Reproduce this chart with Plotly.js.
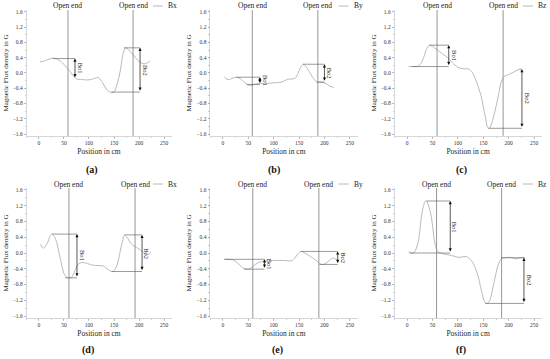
<!DOCTYPE html>
<html><head><meta charset="utf-8">
<script src="https://cdn.plot.ly/plotly-3.0.1.min.js"></script>
<style>html,body{margin:0;padding:0;background:#fff}#chart{width:550px;height:359px}</style>
</head><body><div id="chart"></div>
<script>
// ---- data (position in cm, flux density in G) ----
const posA = [2,10,20,28,35,45,55,62,70,76,85,95,105,115,120,127,135,142,150,156,162,168,173,180,190,200,210,216,222];
const valA = [0.29,0.31,0.36,0.39,0.37,0.29,0.15,0.04,-0.10,-0.16,-0.17,-0.18,-0.17,-0.12,-0.13,-0.25,-0.43,-0.50,-0.50,-0.30,0.02,0.50,0.66,0.60,0.45,0.30,0.24,0.26,0.32];
const posB = [3,8,13,20,27,35,42,48,55,62,72,85,100,115,122,128,135,142,148,153,158,163,170,177,185,195,203,210,218];
const valB = [-0.10,-0.16,-0.17,-0.13,-0.11,-0.15,-0.24,-0.30,-0.33,-0.30,-0.27,-0.27,-0.26,-0.24,-0.20,-0.16,-0.16,-0.14,-0.01,0.15,0.23,0.18,0.04,-0.12,-0.23,-0.24,-0.28,-0.34,-0.38];
const posC = [3,10,20,27,33,38,44,50,59,70,82,90,99,106,112,118,122,128,134,140,146,151,155,158,162,167,172,178,185,191,200,208,216,222];
const valC = [0.17,0.17,0.17,0.24,0.42,0.62,0.73,0.70,0.61,0.50,0.38,0.26,0.16,0.12,0.11,0.11,0.10,0.02,-0.14,-0.36,-0.62,-0.95,-1.22,-1.42,-1.45,-1.30,-1.05,-0.70,-0.25,-0.09,-0.04,0.01,0.07,0.10];
const posD = [3,9,17,22,26,31,36,40,44,50,57,65,72,78,86,95,105,116,129,138,143,148,155,160,165,171,178,185,195,205,212,218,224];
const valD = [0.22,0.12,0.25,0.42,0.48,0.42,0.25,0.02,-0.22,-0.52,-0.63,-0.62,-0.45,-0.29,-0.24,-0.26,-0.30,-0.32,-0.33,-0.42,-0.46,-0.47,-0.35,-0.10,0.20,0.46,0.36,0.22,0.14,0.06,-0.02,-0.04,0.02];
const posE = [3,12,19,26,32,37,41,48,53,58,64,71,80,87,100,120,130,136,141,146,150,154,160,168,176,185,190,195,200,206,211,217,222,228];
const valE = [-0.16,-0.16,-0.17,-0.22,-0.29,-0.35,-0.39,-0.41,-0.40,-0.35,-0.29,-0.24,-0.21,-0.20,-0.19,-0.19,-0.20,-0.20,-0.14,-0.05,0.01,0.04,0.01,-0.05,-0.12,-0.20,-0.26,-0.29,-0.28,-0.23,-0.17,-0.13,-0.16,-0.24];
const posF = [3,8,12,17,22,25,28,32,35,38,41,45,48,51,54,58,61,70,83,92,100,108,116,122,128,132,137,141,145,148,151,154,158,163,167,172,177,182,186,193,200,207,213,220,226,232];
const valF = [0.03,0.0,-0.01,0.08,0.29,0.55,0.90,1.18,1.30,1.32,1.25,1.08,0.90,0.60,0.29,0.10,0.03,-0.02,-0.05,-0.08,-0.11,-0.10,-0.09,-0.13,-0.22,-0.31,-0.48,-0.65,-0.88,-1.04,-1.20,-1.27,-1.28,-1.20,-1.00,-0.70,-0.40,-0.22,-0.14,-0.12,-0.11,-0.12,-0.15,-0.13,-0.12,-0.12];

const seriesNames = ['Bx','By','Bz','Bx','By','Bz'];
const panelLetters = ['(a)','(b)','(c)','(d)','(e)','(f)'];
const openEnd1 = [58,58,59,60,59,58];
const openEnd2 = [188,187,189,192,189,186];
// Bo1 / Bo2 measurement marks: arrow position, top level, bottom level, where the guide lines start
const bo1X = [72,73,82,76,82,85];
const bo1Top = [0.38,-0.11,0.73,0.48,-0.16,1.32];
const bo1Bot = [-0.15,-0.30,0.17,-0.63,-0.41,0.0];
const bo1TopFrom = [28,27,44,26,3,38];
const bo1BotFrom = [72,47,9,52,42,5];
const bo2X = [202,200,226,206,226,230];
const bo2Top = [0.66,0.23,0.10,0.46,0.04,-0.12];
const bo2Bot = [-0.50,-0.24,-1.45,-0.47,-0.29,-1.28];
const bo2TopFrom = [170,158,222,171,154,185];
const bo2BotFrom = [145,185,160,145,190,154];
const xTickVals = [0,50,100,150,200,250];
const yTickVals = [-1.6,-1.2,-0.8,-0.4,0.0,0.4,0.8,1.2,1.6];

const positions = [posA,posB,posC,posD,posE,posF];
const values = [valA,valB,valC,valD,valE,valF];

const FONT = 'Liberation Serif, Times New Roman, serif';
const colDomains = [[0.048,0.312],[0.382,0.650],[0.717,0.985]];
const rowDomains = [[0.6214,0.9719],[0.1142,0.4763]];
const openLabelY = [1-6/359, 1-184/359];
const letterX = [92,274,461,88,277,461];
const letterY = [170,170,170,350,350,350];

const traces = [];
const layout = {
  width:550, height:359, margin:{l:0,r:0,t:0,b:0},
  paper_bgcolor:'#fff', plot_bgcolor:'#fff', showlegend:false,
  font:{family:FONT, color:'#222', size:6},
  shapes:[], annotations:[]
};

for (let i=0;i<6;i++){
  const s = i===0 ? '' : String(i+1);
  const xa = 'x'+s, ya = 'y'+s;
  const row = i<3 ? 0 : 1, col = i%3;
  traces.push({x:positions[i], y:values[i], xaxis:xa, yaxis:ya, type:'scatter', mode:'lines',
    name:seriesNames[i], line:{color:'#b8b8b8', width:1.0, shape:'spline', smoothing:0.7}, hoverinfo:'skip'});
  layout['xaxis'+s] = {domain:colDomains[col], anchor:ya, range:[-25,265], tickvals:xTickVals,
    showgrid:false, zeroline:false, showline:true, linecolor:'#bbb', linewidth:0.6,
    ticks:'outside', ticklen:2, tickwidth:0.6, tickcolor:'#999', automargin:false,
    minor:{ticks:'outside', ticklen:1.2, dtick:25, tickcolor:'#aaa'},
    tickfont:{size:5.5, family:FONT, color:'#333'},
    title:{text:'Position in cm', font:{size:7.5, family:FONT, color:'#222'}, standoff:3}};
  layout['yaxis'+s] = {domain:rowDomains[row], anchor:xa, range:[-1.65,1.65], tickvals:yTickVals,
    tickformat:'.1f', showgrid:false, zeroline:false, showline:true, linecolor:'#bbb', linewidth:0.6,
    ticks:'outside', ticklen:2, tickwidth:0.6, tickcolor:'#999', automargin:false,
    minor:{ticks:'outside', ticklen:1.2, dtick:0.2, tickcolor:'#aaa'},
    tickfont:{size:5.5, family:FONT, color:'#333'},
    title:{text:'Magnetic Flux density in G', font:{size:7, family:FONT, color:'#222'}, standoff:3}};

  // open-end verticals + labels
  [openEnd1[i], openEnd2[i]].forEach(e=>{
    layout.shapes.push({type:'line', xref:xa, yref:ya+' domain', x0:e, x1:e, y0:0, y1:1,
      line:{color:'#8a8a8a', width:0.9}});
    layout.annotations.push({text:'Open end', xref:xa, yref:'paper', x:e, y:openLabelY[row],
      xanchor:'center', yanchor:'middle', showarrow:false, font:{size:7.5, family:FONT, color:'#222'}});
  });

  // Bo guide lines
  const guides = [[bo1TopFrom[i],bo1X[i],bo1Top[i]],[bo1BotFrom[i],bo1X[i],bo1Bot[i]],
                  [bo2TopFrom[i],bo2X[i],bo2Top[i]],[bo2BotFrom[i],bo2X[i],bo2Bot[i]]];
  guides.forEach(g=>{
    layout.shapes.push({type:'line', xref:xa, yref:ya, x0:g[0], x1:g[1], y0:g[2], y1:g[2],
      line:{color:'#555', width:0.6}});
  });
  // Bo arrows and labels
  [[bo1X[i],bo1Top[i],bo1Bot[i],'Bo1'],[bo2X[i],bo2Top[i],bo2Bot[i],'Bo2']].forEach(b=>{
    layout.annotations.push({text:'', xref:xa, yref:ya, axref:xa, ayref:ya,
      x:b[0], y:b[1], ax:b[0], ay:b[2], showarrow:true, arrowside:'end+start',
      arrowhead:2, arrowsize:0.9, arrowwidth:0.7, arrowcolor:'#111', standoff:0, startstandoff:0});
    layout.annotations.push({text:b[3], xref:xa, yref:ya, x:b[0], y:(b[1]+b[2])/2, xshift:5,
      textangle:90, showarrow:false, font:{size:6.5, family:FONT, color:'#222'}});
  });

  // legend sample (line + name)
  layout.shapes.push({type:'line', xref:xa+' domain', yref:'paper', x0:0.872, x1:0.94,
    y0:openLabelY[row], y1:openLabelY[row], line:{color:'#b8b8b8', width:1.0}});
  layout.annotations.push({text:seriesNames[i], xref:xa+' domain', yref:'paper', x:0.96, y:openLabelY[row],
    xanchor:'left', yanchor:'middle', showarrow:false, font:{size:7.5, family:FONT, color:'#222'}});

  // panel letter
  layout.annotations.push({text:'<b>'+panelLetters[i]+'</b>', xref:'paper', yref:'paper',
    x:letterX[i]/550, y:1-letterY[i]/359, xanchor:'center', yanchor:'middle', showarrow:false,
    font:{size:10, family:FONT, color:'#111'}});
}

Plotly.newPlot('chart', traces, layout, {staticPlot:true, displayModeBar:false});
</script>
</body></html>
